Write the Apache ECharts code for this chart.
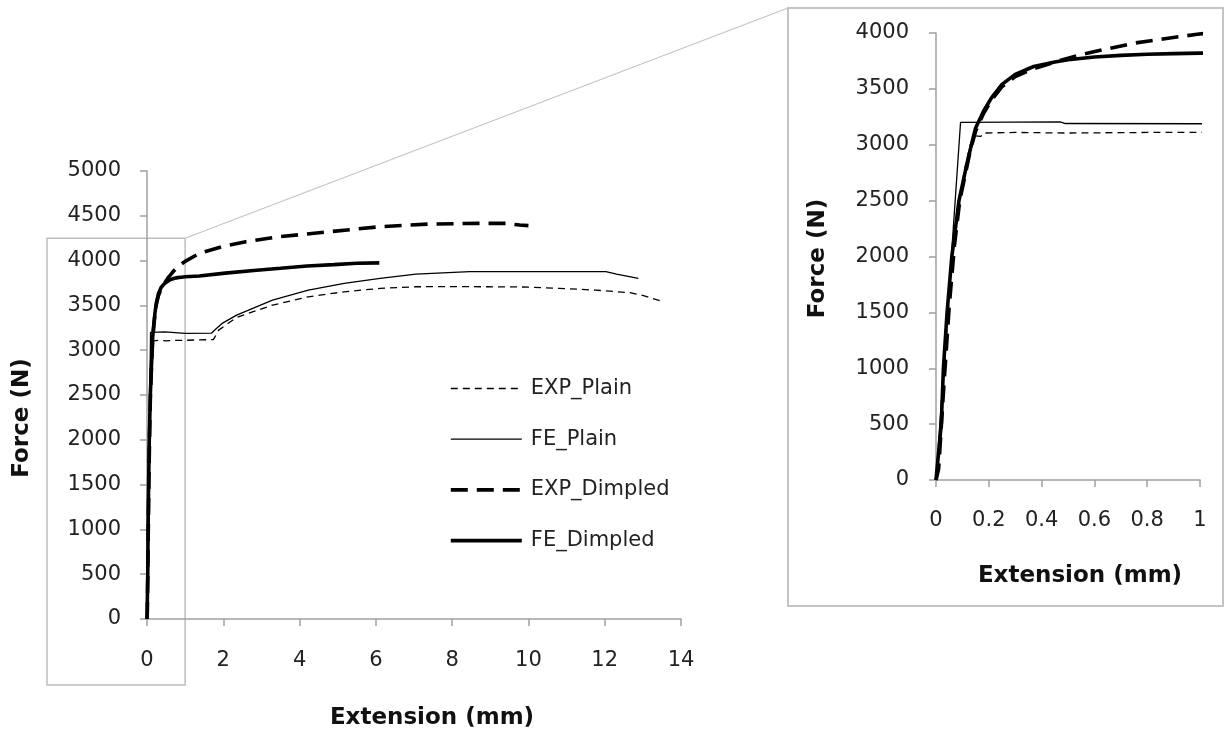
<!DOCTYPE html>
<html>
<head>
<meta charset="utf-8">
<script src="https://cdn.jsdelivr.net/npm/echarts@6/dist/echarts.min.js"></script>
<style>
  html, body { margin: 0; padding: 0; background: #fff; }
  #chart { width: 1225px; height: 740px; }
</style>
</head>
<body>
<div id="chart"></div>
<script>
// Force–extension curves, plain vs dimpled specimens (experiment and FE model)
const seriesNames = ['EXP_Plain', 'FE_Plain', 'EXP_Dimpled', 'FE_Dimpled'];

// Extension (mm) / Force (N)
const expPlainX = [0, 0.01, 0.02, 0.04, 0.06, 0.085, 0.11, 0.13, 0.145, 0.15, 0.17, 0.18, 0.3, 0.5, 0.8, 1.0, 1.3, 1.74, 1.88, 2.35, 3.29, 4.23, 5.17, 6.11, 7.05, 8.0, 8.93, 10.0, 10.8, 11.75, 12.69, 13.06, 13.53];
const expPlainF = [0, 250, 600, 1300, 1950, 2450, 2800, 3000, 3080, 3075, 3075, 3105, 3110, 3105, 3110, 3110, 3115, 3118, 3224, 3366, 3503, 3596, 3652, 3690, 3708, 3710, 3708, 3705, 3690, 3671, 3641, 3604, 3540];

const fePlainX = [0, 0.005, 0.093, 0.47, 0.49, 1.0, 1.69, 1.79, 1.97, 2.35, 3.29, 4.23, 5.17, 6.11, 7.05, 8.46, 9.87, 12.03, 12.31, 12.88];
const fePlainF = [0, 0, 3200, 3205, 3190, 3188, 3190, 3232, 3299, 3392, 3559, 3671, 3745, 3801, 3850, 3876, 3876, 3876, 3850, 3801];

const expDimpledX = [0, 0.01, 0.03, 0.05, 0.07, 0.09, 0.115, 0.13, 0.15, 0.18, 0.21, 0.25, 0.3, 0.37, 0.45, 0.545, 0.66, 0.75, 0.86, 0.99, 1.37, 2.0, 2.59, 3.47, 4.78, 6.09, 7.41, 8.72, 9.4, 9.77, 10.0];
const expDimpledF = [0, 100, 850, 1550, 2100, 2500, 2780, 2950, 3120, 3280, 3400, 3520, 3610, 3680, 3740, 3804, 3864, 3909, 3947, 3989, 4081, 4160, 4211, 4267, 4322, 4378, 4408, 4416, 4415, 4397, 4390];

const feDimpledX = [0, 0.007, 0.02, 0.028, 0.042, 0.06, 0.087, 0.115, 0.13, 0.15, 0.18, 0.21, 0.25, 0.3, 0.37, 0.45, 0.5, 0.6, 0.7, 0.8, 0.9, 1.0, 1.37, 2.05, 2.8, 3.5, 4.2, 4.9, 5.5, 6.09];
const feDimpledF = [0, 0, 500, 1000, 1500, 2000, 2500, 2807, 2960, 3150, 3300, 3420, 3540, 3630, 3700, 3740, 3760, 3785, 3800, 3810, 3815, 3820, 3828, 3860, 3890, 3914, 3939, 3955, 3970, 3975];

// Axis ranges [min, max, interval]: full test and close-up of the elastic region
const mainXRange = [0, 14, 2];
const mainYRange = [0, 5000, 500];
const zoomXRange = [0, 1, 0.2];
const zoomYRange = [0, 4000, 500];
const zoomFrameTopF = 4250;

const xTitle = 'Extension (mm)';
const yTitle = 'Force (N)';

const FONT = 'DejaVu Sans';
const TEXT = '#222';
const AXIS = '#a0a0a0';

const styles = {
  EXP_Plain:   { width: 1.3, type: [7, 5] },
  FE_Plain:    { width: 1.3, type: 'solid' },
  EXP_Dimpled: { width: 3.6, type: [17, 9] },
  FE_Dimpled:  { width: 3.6, type: 'solid' }
};
const sources = {
  EXP_Plain:   [expPlainX, expPlainF],
  FE_Plain:    [fePlainX, fePlainF],
  EXP_Dimpled: [expDimpledX, expDimpledF],
  FE_Dimpled:  [feDimpledX, feDimpledF]
};

function pairs(xs, ys) { return xs.map((x, i) => [x, ys[i]]); }

function axisCommon(range, margin) {
  return {
    type: 'value', min: range[0], max: range[1], interval: range[2],
    axisLine: { show: true, onZero: false, lineStyle: { color: AXIS, width: 1.5 } },
    axisTick: { show: true, inside: false, length: 7, lineStyle: { color: AXIS, width: 1.5 } },
    splitLine: { show: false },
    axisLabel: {
      margin: margin, color: TEXT, fontFamily: FONT, fontSize: 21,
      formatter: v => String(Math.round(v * 1000) / 1000)
    }
  };
}

const series = [];
[0, 1].forEach(g => {
  seriesNames.forEach(name => {
    const [xs, ys] = sources[name];
    series.push({
      name: name, type: 'line', xAxisIndex: g, yAxisIndex: g,
      data: pairs(xs, ys), symbol: 'none', showSymbol: false, clip: true,
      lineStyle: { color: '#000', width: styles[name].width, type: styles[name].type },
      itemStyle: { color: '#000' }, z: 3
    });
  });
});

const chart = echarts.init(document.getElementById('chart'));
chart.setOption({
  animation: false,
  backgroundColor: '#fff',
  grid: [
    { left: 147, top: 171, width: 534, height: 448 },
    { left: 936, top: 33, width: 264, height: 447 }
  ],
  xAxis: [
    Object.assign({ gridIndex: 0 }, axisCommon(mainXRange, 31)),
    Object.assign({ gridIndex: 1 }, axisCommon(zoomXRange, 30))
  ],
  yAxis: [
    Object.assign({ gridIndex: 0 }, axisCommon(mainYRange, 26)),
    Object.assign({ gridIndex: 1 }, axisCommon(zoomYRange, 27))
  ],
  legend: {
    data: seriesNames,
    orient: 'vertical', left: 449, top: 378, padding: 0,
    itemWidth: 71, itemHeight: 14, itemGap: 29.7,
    itemStyle: { opacity: 0 },
    lineStyle: { width: 'inherit', type: 'inherit' },
    textStyle: { fontFamily: FONT, fontSize: 21, color: TEXT, padding: [0, 0, 0, 4] },
    selectedMode: false
  },
  series: series
});

// Frames, connector and axis titles, positioned from the axis scales
const px = (g, x, y) => chart.convertToPixel({ xAxisIndex: g, yAxisIndex: g }, [x, y]);
const boxTR = px(0, zoomXRange[1], zoomFrameTopF);
const mainOrigin = px(0, 0, 0);
const mainEnd = px(0, mainXRange[1], mainYRange[1]);
const zoomOrigin = px(1, 0, 0);
const zoomTop = px(1, 0, zoomYRange[1]);
const zoomRight = px(1, zoomXRange[1], 0);

const frameL = { x: mainOrigin[0] - 100, y: boxTR[1], w: boxTR[0] - (mainOrigin[0] - 100), h: mainOrigin[1] + 66 - boxTR[1] };
const frameR = { x: zoomOrigin[0] - 148, y: zoomTop[1] - 25, w: zoomRight[0] + 23 - (zoomOrigin[0] - 148), h: zoomOrigin[1] + 126 - (zoomTop[1] - 25) };

const titleFont = 'bold 23px "' + FONT + '"';
function title(text, x, y, rot) {
  return {
    type: 'text', x: x, y: y, rotation: rot || 0, z: 5,
    style: { text: text, x: 0, y: 0, align: 'center', verticalAlign: 'middle', font: titleFont, fill: '#111' }
  };
}

chart.setOption({
  graphic: [
    { type: 'rect', z: 0, shape: { x: frameL.x, y: frameL.y, width: frameL.w, height: frameL.h },
      style: { fill: 'none', stroke: '#bdbdbd', lineWidth: 1.5 } },
    { type: 'rect', z: 0, shape: { x: frameR.x, y: frameR.y, width: frameR.w, height: frameR.h },
      style: { fill: 'none', stroke: '#c4c4c4', lineWidth: 2 } },
    { type: 'line', z: 0, shape: { x1: boxTR[0], y1: boxTR[1], x2: frameR.x, y2: frameR.y },
      style: { stroke: '#c4c4c4', lineWidth: 1.2 } },
    title(yTitle, 22, (mainOrigin[1] + mainEnd[1]) / 2 + 23, Math.PI / 2),
    title(xTitle, (mainOrigin[0] + mainEnd[0]) / 2 + 18, mainOrigin[1] + 99),
    title(yTitle, zoomOrigin[0] - 118, (zoomOrigin[1] + zoomTop[1]) / 2 + 2, Math.PI / 2),
    title(xTitle, (zoomOrigin[0] + zoomRight[0]) / 2 + 12, zoomOrigin[1] + 96)
  ]
});
</script>
</body>
</html>
